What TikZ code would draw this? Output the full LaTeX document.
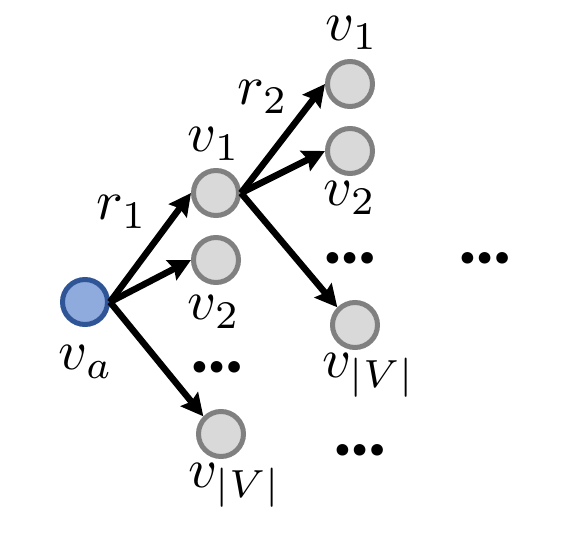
\documentclass[tikz,border=0pt]{standalone}
\usepackage{fontspec}
\newfontfamily\calib{Carlito}
\usetikzlibrary{arrows.meta}
\definecolor{vafill}{HTML}{8FAADC}
\definecolor{vadraw}{HTML}{2F5597}
\definecolor{ndfill}{HTML}{D9D9D9}
\definecolor{nddraw}{HTML}{808080}
\newcommand{\mylbl}[1]{\scalebox{5.6}{$#1$}}
\tikzset{
  ent/.style={circle, minimum size=45pt, inner sep=0pt, line width=5pt, draw=nddraw, fill=ndfill},
  anchorent/.style={ent, draw=vadraw, fill=vafill},
  lbl/.style={inner sep=0pt},
  dotsl/.style={inner sep=0pt, font=\calib\bfseries\fontsize{78}{80}\selectfont},
  rel/.style={line width=6.5pt, -{Stealth[length=22pt,width=22pt,inset=3pt]}},
}
\begin{document}
\begin{tikzpicture}[x=1pt,y=-1pt]
\useasboundingbox (0,0) rectangle (580,538);
\node[anchorent] (va) at (85,302) {};
\node[ent] (l1a) at (216,193) {};
\node[ent] (l1b) at (216,260) {};
\node[ent] (l1c) at (221,434) {};
\node[ent] (l2a) at (350,84) {};
\node[ent] (l2b) at (350,151) {};
\node[ent] (l2c) at (355,325) {};

\draw[rel] (va.east) -- (l1a.west);
\draw[rel] (va.east) -- (l1b.west);
\draw[rel] (va.east) -- (l1c.north west);
\draw[rel] (l1a.east) -- (l2a.west);
\draw[rel] (l1a.east) -- (l2b.west);
\draw[rel] (l1a.east) -- (l2c.north west);

\node[lbl] (tva) at (86,362) {\mylbl{v_a}};
\node[lbl] (tr1) at (122,212) {\mylbl{r_1}};
\node[lbl] (t1a) at (214,144) {\mylbl{v_1}};
\node[lbl] (t1b) at (214,312) {\mylbl{v_2}};
\node[dotsl] (d1) at (217,367) {…};
\node[lbl] (t1c) at (235,485) {\mylbl{v_{|V|}}};
\node[lbl] (tr2) at (263,97) {\mylbl{r_2}};
\node[lbl] (t2a) at (352,33) {\mylbl{v_1}};
\node[lbl] (t2b) at (350,198) {\mylbl{v_2}};
\node[dotsl] (d2) at (350,258) {…};
\node[dotsl] (d3) at (485,258) {…};
\node[lbl] (t2c) at (369,375) {\mylbl{v_{|V|}}};
\node[dotsl] (d4) at (360,450) {…};
\end{tikzpicture}
\end{document}
